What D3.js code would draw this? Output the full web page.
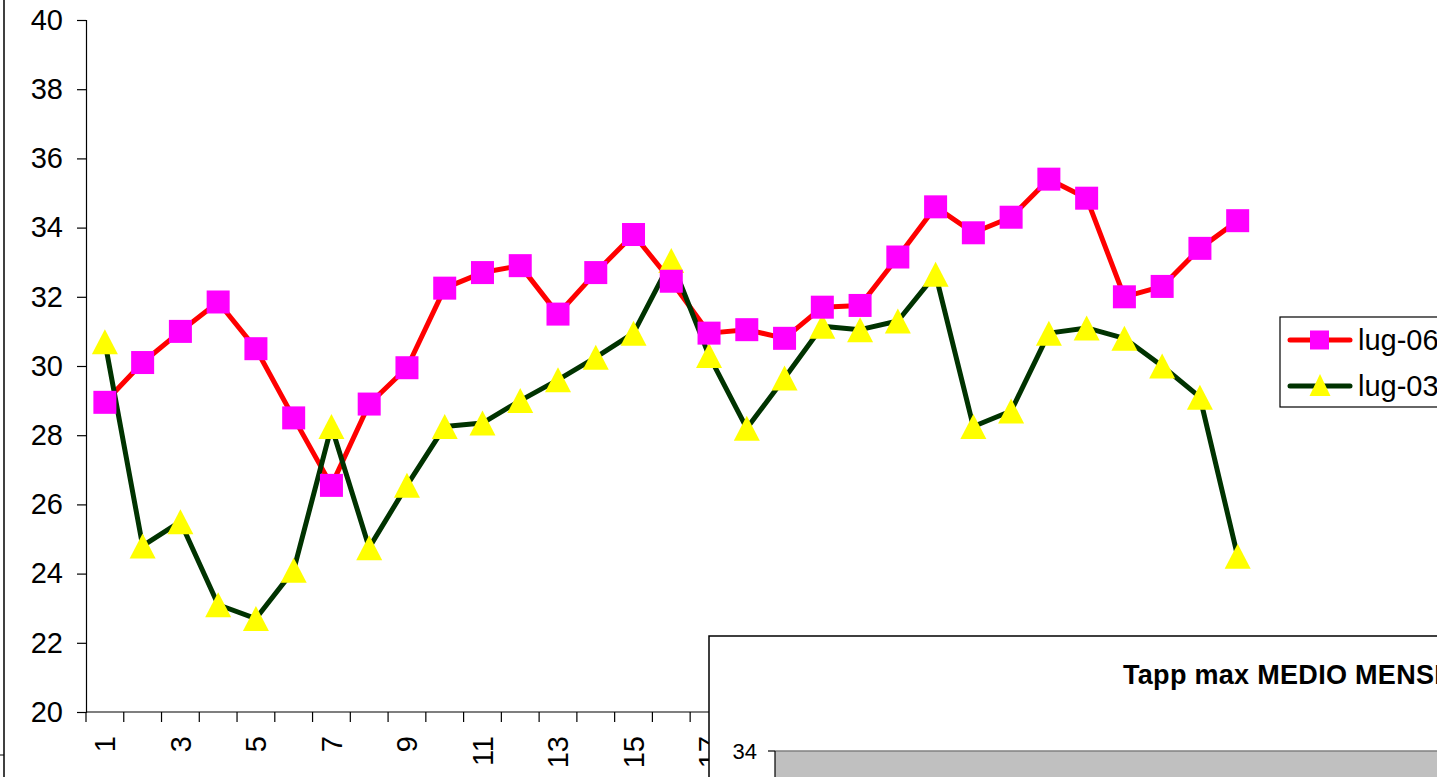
<!DOCTYPE html>
<html>
<head>
<meta charset="utf-8">
<script src="https://cdn.jsdelivr.net/npm/d3@7"></script>
<style>
  html, body { margin: 0; padding: 0; background: #fff; overflow: hidden; }
  svg { display: block; font-family: Arial, "Liberation Sans", sans-serif; }
</style>
</head>
<body>
<svg id="chart" width="1437" height="777"></svg>
<script>
// ---- data ----
const days = [1,2,3,4,5,6,7,8,9,10,11,12,13,14,15,16,17,18,19,20,21,22,23,24,25,26,27,28,29,30,31];
const dayLabels = [1,3,5,7,9,11,13,15,17,19,21,23,25,27,29,31];
const lug06 = [28.95,30.1,31.0,31.85,30.5,28.5,26.55,28.9,29.95,32.25,32.7,32.9,31.5,32.7,33.8,32.45,30.95,31.05,30.8,31.7,31.75,33.15,34.6,33.85,34.3,35.4,34.85,32.0,32.3,33.4,34.2];
const lug03 = [30.7,24.8,25.5,23.1,22.7,24.1,28.25,24.75,26.55,28.25,28.35,29.0,29.6,30.25,30.95,33.05,30.3,28.2,29.65,31.15,31.05,31.3,32.65,28.25,28.7,30.95,31.1,30.8,30.0,29.1,24.5];
const yTicks = [20,22,24,26,28,30,32,34,36,38,40];
const seriesNames = ["lug-06", "lug-03"];
const insetTitle = "Tapp max MEDIO MENSILE";
const insetTicks = [34];

const svg = d3.select("#chart");

// ---- scales ----
const x = d3.scaleBand().domain(days).range([86, 86 + 31 * 37.76]).paddingInner(0).paddingOuter(0);
const y = d3.scaleLinear().domain([20, 40]).range([712, 20]);

// outer frame line on left
svg.append("line").attr("x1", 4).attr("x2", 4).attr("y1", 0).attr("y2", 777)
  .attr("stroke", "#000").attr("stroke-width", 1.5);
svg.append("line").attr("x1", 0).attr("x2", 4).attr("y1", 755).attr("y2", 755)
  .attr("stroke", "#000").attr("stroke-width", 1);

// ---- y axis ----
const yAxis = svg.append("g").attr("transform", "translate(86,0)")
  .call(d3.axisLeft(y).tickValues(yTicks).tickSize(9).tickPadding(14).tickFormat(d3.format("d")));
yAxis.select(".domain").attr("stroke", "#000").attr("stroke-width", 1.2);
yAxis.selectAll(".tick line").attr("stroke", "#000").attr("stroke-width", 1.2);
yAxis.selectAll("text").attr("font-size", 29).attr("fill", "#000")
  .attr("font-family", "Arial, 'Liberation Sans', sans-serif");

// ---- x axis ----
const xg = svg.append("g");
xg.append("line").attr("x1", x.range()[0]).attr("x2", x.range()[1]).attr("y1", 712).attr("y2", 712)
  .attr("stroke", "#000").attr("stroke-width", 1.2);
const boundaries = days.map(d => x(d)).concat([x(days[days.length - 1]) + x.bandwidth()]);
xg.selectAll("line.tk").data(boundaries).join("line").attr("class", "tk")
  .attr("x1", d => d).attr("x2", d => d).attr("y1", 712).attr("y2", 722)
  .attr("stroke", "#000").attr("stroke-width", 1.2);
xg.selectAll("text").data(dayLabels).join("text")
  .attr("transform", d => `translate(${x(d) + x.bandwidth() / 2},736) rotate(-90)`)
  .attr("text-anchor", "end").attr("dy", "0.36em")
  .attr("font-size", 29).attr("fill", "#000")
  .text(d => d);

// ---- lines ----
const cx = d => x(d) + x.bandwidth() / 2;
const line = d3.line().x((v, i) => cx(days[i])).y(v => y(v));

svg.append("path").datum(lug06).attr("d", line)
  .attr("fill", "none").attr("stroke", "#FF0000").attr("stroke-width", 5).attr("stroke-linejoin", "round");
svg.append("path").datum(lug03).attr("d", line)
  .attr("fill", "none").attr("stroke", "#003300").attr("stroke-width", 5).attr("stroke-linejoin", "round");

function triPath(w, h) {
  return `M0,${-h/2}L${w/2},${h/2}L${-w/2},${h/2}Z`;
}

svg.append("g").selectAll("path").data(lug03).join("path")
  .attr("d", triPath(26, 25))
  .attr("transform", (v, i) => `translate(${cx(days[i])},${y(v)})`)
  .attr("fill", "#FFFF00");

svg.append("g").selectAll("rect").data(lug06).join("rect")
  .attr("x", (v, i) => cx(days[i]) - 11.5).attr("y", v => y(v) - 11.5)
  .attr("width", 23).attr("height", 23)
  .attr("fill", "#FF00FF");

// ---- legend ----
const lg = svg.append("g");
lg.append("rect").attr("x", 1280).attr("y", 317).attr("width", 200).attr("height", 90)
  .attr("fill", "#fff").attr("stroke", "#000").attr("stroke-width", 1.2);
const legendItems = [
  {name: seriesNames[0], stroke: "#FF0000", fill: "#FF00FF", shape: "square", yy: 340},
  {name: seriesNames[1], stroke: "#003300", fill: "#FFFF00", shape: "tri", yy: 386}
];
legendItems.forEach(it => {
  lg.append("line").attr("x1", 1290).attr("x2", 1350).attr("y1", it.yy).attr("y2", it.yy)
    .attr("stroke", it.stroke).attr("stroke-width", 5).attr("stroke-linecap", "round");
  if (it.shape === "square") {
    lg.append("rect").attr("x", 1310).attr("y", it.yy - 9.5).attr("width", 19).attr("height", 19).attr("fill", it.fill);
  } else {
    lg.append("path").attr("d", triPath(21, 22)).attr("transform", `translate(1320,${it.yy - 1})`).attr("fill", it.fill);
  }
  lg.append("text").attr("x", 1358).attr("y", it.yy).attr("dy", "0.36em")
    .attr("font-size", 29).attr("fill", "#000").text(it.name);
});

// ---- inset chart (overlapping, partially visible) ----
const ig = svg.append("g");
ig.append("rect").attr("x", 709).attr("y", 636).attr("width", 800).attr("height", 200)
  .attr("fill", "#fff").attr("stroke", "#000").attr("stroke-width", 1.5);
ig.append("text").attr("x", 1123).attr("y", 684)
  .attr("font-size", 27).attr("font-weight", "bold").attr("letter-spacing", 0.3)
  .attr("fill", "#000").text(insetTitle);
const iy = d3.scaleLinear().domain([30, 34]).range([900, 751]);
ig.append("rect").attr("x", 775).attr("y", iy(34)).attr("width", 700).attr("height", 100)
  .attr("fill", "#C0C0C0");
ig.append("line").attr("x1", 775).attr("x2", 1437).attr("y1", iy(34)).attr("y2", iy(34))
  .attr("stroke", "#808080").attr("stroke-width", 1.5);
ig.append("line").attr("x1", 775).attr("x2", 775).attr("y1", iy(34)).attr("y2", 777)
  .attr("stroke", "#000").attr("stroke-width", 1.2);
ig.selectAll("line.itk").data(insetTicks).join("line").attr("class", "itk")
  .attr("x1", 768).attr("x2", 775).attr("y1", d => iy(d)).attr("y2", d => iy(d))
  .attr("stroke", "#000").attr("stroke-width", 1.2);
ig.selectAll("text.itl").data(insetTicks).join("text").attr("class", "itl")
  .attr("x", 757).attr("y", d => iy(d)).attr("dy", "0.36em").attr("text-anchor", "end")
  .attr("font-size", 22).attr("fill", "#000").text(d => d);
</script>
</body>
</html>
